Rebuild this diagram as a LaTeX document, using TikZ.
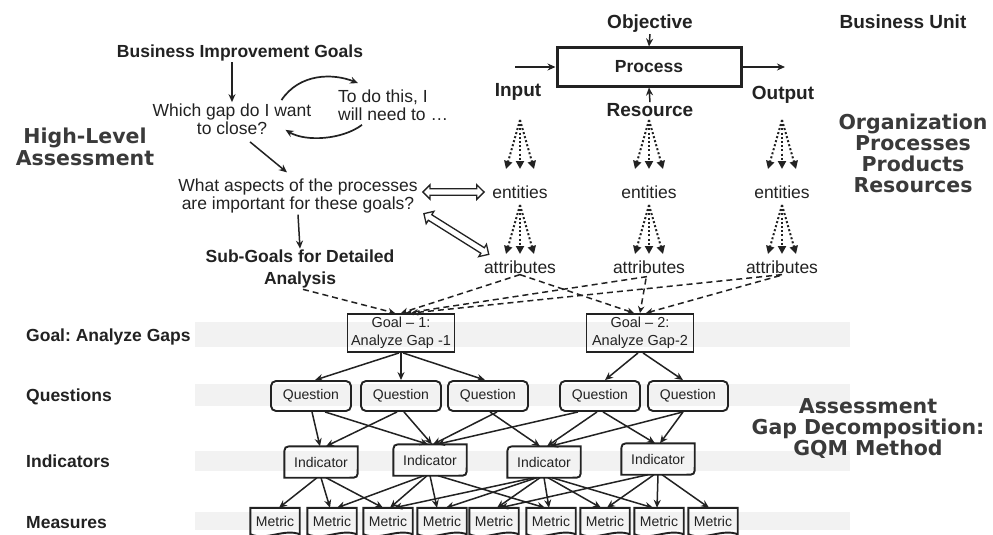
\documentclass[tikz,border=0pt]{standalone}
\usepackage{fontspec}
\setmainfont{Liberation Sans}
\newfontfamily\heavyfont{DejaVu Sans}
\usetikzlibrary{arrows.meta,calc,shapes.arrows}
\frenchspacing

\definecolor{ink}{HTML}{222222}
\definecolor{heavyink}{HTML}{3A3A3A}
\definecolor{band}{HTML}{F2F2F2}

% Indicator outline: rounded top-left and bottom-right corners
\newcommand{\indicatoroutline}[1]{%
  \draw[boxline] (#1.north east) -- ($(#1.south east)+(0,-9)$)
    .. controls (#1.south east) .. ($(#1.south east)+(-9,0)$)
    -- (#1.south west) -- ($(#1.north west)+(0,10)$)
    .. controls (#1.north west) .. ($(#1.north west)+(10,0)$) -- cycle;}
% Metric outline: document shape with a wavy lower edge
\newcommand{\metricoutline}[1]{%
  \draw[boxline] (#1.south west) -- (#1.north west) -- (#1.north east) -- (#1.south east)
    .. controls ($(#1.south east)+(-16,-6)$) and ($(#1.south west)+(16,7)$) .. (#1.south west) -- cycle;}
% Hollow two-headed block arrow between two points
\newcommand{\blockarrow}[2]{%
  \path let \p1=(#1), \p2=(#2), \n1={atan2(\y2-\y1,\x2-\x1)}, \n2={veclen(\x2-\x1,\y2-\y1)} in
    node[hollowarrow, minimum height=\n2, rotate=\n1] at ($(\p1)!0.5!(\p2)$) {};}

\begin{document}
\begin{tikzpicture}[x=1pt,y=-1pt,
  every node/.style={text=ink, inner sep=1pt},
  plain/.style={font=\fontsize{17.5}{18.5}\selectfont, align=center},
  bold/.style={font=\fontsize{17.5}{22}\selectfont\bfseries, align=center},
  head/.style={font=\fontsize{19}{22}\selectfont\bfseries},
  heavy/.style={font=\heavyfont\bfseries\fontsize{20.5}{21}\selectfont, text=heavyink, align=center},
  rowlabel/.style={font=\fontsize{17.5}{20}\selectfont\bfseries, anchor=west},
  boxline/.style={draw=ink, line width=1.9pt},
  goalbox/.style={boxline, minimum width=107pt, minimum height=38pt, align=center, font=\fontsize{14.5}{18}\selectfont},
  qbox/.style={boxline, rounded corners=5pt, minimum width=80pt, minimum height=30pt, font=\fontsize{14}{16}\selectfont},
  indbox/.style={minimum width=73pt, minimum height=31pt, font=\fontsize{14}{16}\selectfont},
  metbox/.style={minimum width=49pt, minimum height=26pt, font=\fontsize{14}{16}\selectfont},
  arr/.style={draw=ink, line width=1.5pt, -{Stealth[length=8pt,width=7pt]}},
  curvearr/.style={arr, line width=1.7pt},
  fan/.style={draw=ink, line width=2pt, dash pattern=on 2pt off 2.2pt, -{Triangle[length=8pt,width=8pt]}},
  dashln/.style={draw=ink, line width=1.5pt, dash pattern=on 6pt off 4pt, -{Stealth[length=7pt,width=6.5pt]}},
  hollowarrow/.style={double arrow, draw=ink, fill=white, line width=1.3pt, inner xsep=0pt, inner ysep=2.6pt,
                      double arrow head extend=4pt, double arrow head indent=0pt, minimum width=0pt},
]
\useasboundingbox (0,0) rectangle (993,535);
\fill[white] (0,0) rectangle (993,535);

% faint row bands
\fill[band] (195,322) rectangle (850,347);
\fill[band] (195,384) rectangle (850,406);
\fill[band] (195,451) rectangle (850,471);
\fill[band] (195,512) rectangle (850,530);

% ---------- process model ----------
\node[head] (obj) at (650,24) {Objective};
\node[head] (bu) at (903,22) {Business Unit};
\node[draw=ink, line width=3pt, minimum width=184pt, minimum height=38pt,
      font=\fontsize{17.5}{20}\selectfont\bfseries] (proc) at (649,67) {Process};
\node[head] (inp) at (518,92) {Input};
\node[head] (res) at (650,110) {Resource};
\node[head] (outp) at (783,95) {Output};
\coordinate (infeed) at (515,67);
\coordinate (outfeed) at (785,67);
\draw[arr] (infeed) -- (proc.west);
\draw[arr] (proc.east) -- (outfeed);
\draw[arr] (obj.south) -- (proc.north);
\draw[arr] (res.north) -- (proc.south);

\foreach \c/\x in {1/520,2/649,3/782}{
  \node[plain] (ent\c) at (\x,192) {entities};
  \node[plain] (att\c) at (\x,267) {attributes};
}
\foreach \c in {1,2,3}{
  \foreach \dx in {-14,0,14}{
    \draw[fan] ($(ent\c)+(0,-72)$) -- ($(ent\c)+(\dx,-23)$);
    \draw[fan] ($(ent\c)+(0,13)$) -- ($(ent\c)+(\dx,62)$);
  }
}

% ---------- side titles ----------
\node[heavy] (org) at (913,153) {Organization\\Processes\\Products\\Resources};
\node[heavy, font=\heavyfont\bfseries\fontsize{20.5}{22}\selectfont] (hla) at (85,147) {High-Level\\Assessment};
\node[heavy] (gqm) at (868,429) {Assessment\\Gap Decomposition:\\GQM Method};

% ---------- high-level reasoning ----------
\node[bold] (big) at (240,53) {Business Improvement Goals};
\node[plain] (which) at (232,119) {Which gap do I want\\to close?};
\node[plain, align=left, anchor=west] (todo) at (337,105) {To do this, I\\will need to \dots};
\node[plain] (aspects) at (298,196) {What aspects of the processes\\are important for these goals?};
\node[bold] (subg) at (300,269) {Sub-Goals for Detailed\\Analysis};

\draw[arr] (big.south -| which.north) -- (which.north);
\draw[arr] ($(which.south)+(18,6)$) -- ($(aspects.north)+(-11,-5)$);
\draw[arr] (aspects.south) -- (subg.north);
\draw[curvearr] ($(which.north east)+(-31,-2)$) .. controls +(18,-27) and +(-25,-10) .. ($(todo.north west)+(21,-5)$);
\draw[curvearr] ($(todo.south west)+(25,3)$) .. controls +(-20,15) and +(20,12) .. ($(which.south east)+(-27,-6)$);

\coordinate (h1a) at ($(aspects.east |- ent1.west)+(4,0)$);
\coordinate (h1b) at ($(ent1.west)+(-7,0)$);
\coordinate (h2a) at ($(aspects.south east)+(5,-1)$);
\coordinate (h2b) at ($(att1.north west)+(6,-5)$);
\blockarrow{h1a}{h1b}
\blockarrow{h2a}{h2b}

% ---------- GQM decomposition ----------
\node[rowlabel] (rgoal) at (25,337) {Goal: Analyze Gaps};
\node[rowlabel] (rq) at (25,397) {Questions};
\node[rowlabel] (ri) at (25,461) {Indicators};
\node[rowlabel] (rm) at (25,523) {Measures};

\node[goalbox] (g1) at (401,333) {Goal – 1:\\Analyze Gap -1};
\node[goalbox] (g2) at (640,333) {Goal – 2:\\Analyze Gap-2};

\draw[dashln] ($(subg.south)+(3,0)$) -- ($(g1.north)+(-6,0)$);
\draw[dashln] (att1.south) -- (g1.north);
\draw[dashln] (att1.south) -- ($(g2.north)+(-6,0)$);
\draw[dashln] ($(att2.south)+(-2,2)$) -- ($(g1.north)+(5,0)$);
\draw[dashln] ($(att2.south)+(-3,4)$) -- (g2.north);
\draw[dashln] (att3.south) -- ($(g1.north)+(10,0)$);
\draw[dashln] ($(att3.south)+(-2,1)$) -- ($(g2.north)+(6,0)$);

\foreach \i/\x in {1/311,2/401,3/488,4/600,5/688}{
  \node[qbox] (q\i) at (\x,396) {Question};
}
\foreach \i/\x/\y in {1/321/462,2/430/460,3/544/462,4/658/459}{
  \node[indbox] (i\i) at (\x,\y) {Indicator};
  \indicatoroutline{i\i}
}
\foreach \i/\x in {1/275,2/332,3/388,4/442,5/494,6/551,7/605,8/659,9/713}{
  \node[metbox] (m\i) at (\x,521) {Metric};
  \metricoutline{m\i}
}

% goals to questions
\foreach \s/\t/\a/\b in {g1/q1/-2/4, g1/q2/0/0, g1/q3/2/-3, g2/q4/-2/5, g2/q5/3/-5}{
  \draw[arr] ([xshift=\a pt]\s.south) -- ([xshift=\b pt]\t.north);
}
% questions to indicators
\foreach \s/\t/\a/\b in {q1/i1/1/-1, q1/i2/14/-2, q2/i1/-4/5, q2/i2/3/2, q3/i2/9/3, q3/i3/2/-4,
                          q4/i2/-22/7, q4/i3/-3/3, q4/i4/3/-3, q5/i3/-5/6, q5/i4/-5/2}{
  \draw[arr] ([xshift=\a pt]\s.south) -- ([xshift=\b pt]\t.north);
}
% indicators to measures
\foreach \s/\t/\a/\b in {i1/m1/-4/4, i1/m2/0/-2, i1/m3/5/-5,
                          i2/m2/-6/5, i2/m3/-3/2, i2/m4/0/-5, i2/m6/8/-6,
                          i3/m3/-10/6, i3/m4/-7/4, i3/m5/-4/3, i3/m6/0/-2, i3/m7/4/-4, i3/m8/8/-6,
                          i4/m5/-10/6, i4/m7/-4/2, i4/m8/0/-2, i4/m9/4/-4}{
  \draw[arr] ([xshift=\a pt]\s.south) -- ([xshift=\b pt]\t.north);
}
\end{tikzpicture}
\end{document}
